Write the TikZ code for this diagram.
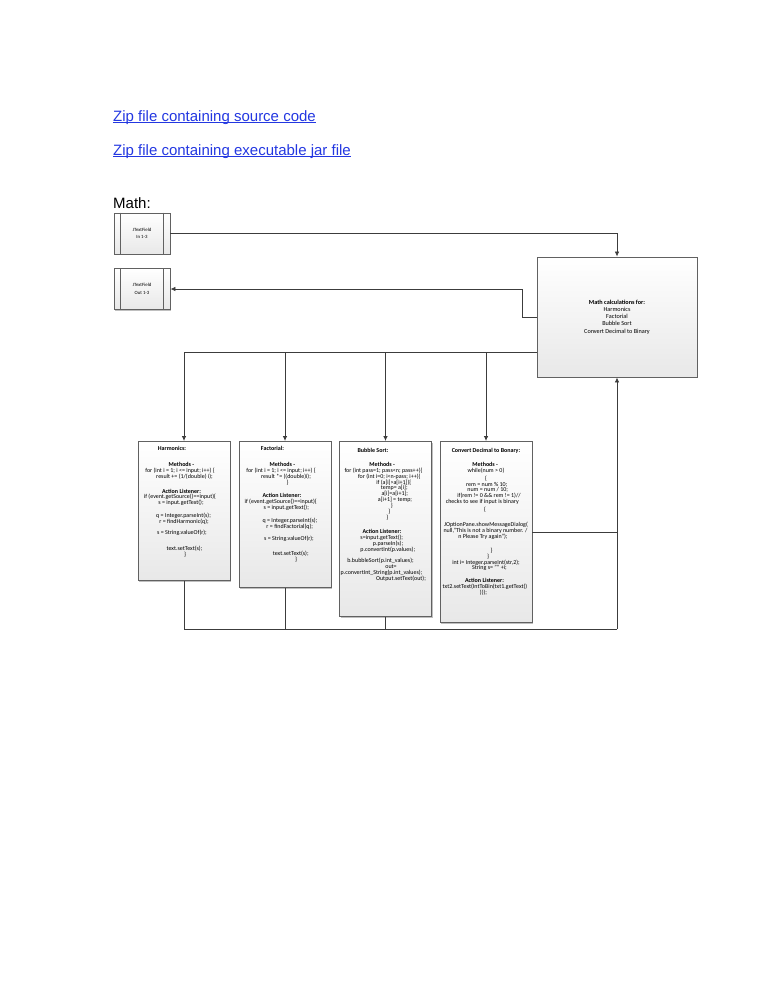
\documentclass[tikz,border=0pt]{standalone}
\usepackage{fontspec}
\setmainfont{Carlito}
\newfontfamily\arialfont{Liberation Sans}
\usetikzlibrary{arrows.meta, calc, shadows}

\definecolor{linkblue}{RGB}{35,55,225}
\definecolor{linegray}{RGB}{60,60,60}

% move one line of a centred block sideways
\newcommand{\shiftln}[2]{\hspace*{#1pt}#2\hspace*{-#1pt}}
\setlength{\lineskiplimit}{-5pt}

\begin{document}
\begin{tikzpicture}[x=1pt, y=1pt,
  box/.style={draw=black!62, line width=0.9pt, top color=white, bottom color=black!9,
    drop shadow={shadow xshift=1.2pt, shadow yshift=-1.2pt, opacity=0.25, fill=black}},
  field/.style={box, minimum width=56pt, minimum height=41pt, inner sep=0pt,
    align=center, font=\fontsize{4.8}{7.5}\selectfont},
  calcbox/.style={box, minimum width=160pt, minimum height=120pt, align=center,
    font=\fontsize{6.2}{7.2}\selectfont},
  methodbox/.style={box, minimum width=92pt, anchor=north, inner sep=0pt},
  methodtext/.style={anchor=north, align=center, inner sep=0pt,
    font=\fontsize{6}{5.9}\selectfont},
  flow/.style={draw=linegray, line width=0.75pt, -{Latex[length=5pt, width=4.5pt]}},
  wire/.style={draw=linegray, line width=0.75pt},
  link/.style={anchor=base west, inner sep=0pt, text=linkblue,
    font=\arialfont\fontsize{15}{18}\selectfont}
]

\useasboundingbox (0,0) rectangle (768,-994);

  % Links and heading
  \node[link] (srclink) at (113,-121) {\underline{\smash{Zip file containing source code}}};
  \node[link] (jarlink) at (113,-155) {\underline{\smash{Zip file containing executable jar file}}};
  \node[anchor=base west, inner sep=0pt, font=\arialfont\fontsize{15}{18}\selectfont]
    (mathhead) at (113,-208) {Math:};

  % Text fields
  \node[field] (in) at (142,-233.5) {JTextField\\In 1-3};
  \node[field] (out) at (142,-289) {JTextField\\Out 1-3};
  \foreach \f in {in,out} {
    \draw[draw=black!62, line width=0.9pt] ([xshift=7pt]\f.north west) -- ([xshift=7pt]\f.south west);
    \draw[draw=black!62, line width=0.9pt] ([xshift=-7pt]\f.north east) -- ([xshift=-7pt]\f.south east);
  }

  % Calculation box
  \node[calcbox] (math) at (617,-317) {\textbf{Math calculations for:}\\Harmonics\\Factorial\\Bubble Sort\\Convert Decimal to Binary};

  % Method boxes
  \node[methodbox, minimum height=139pt] (harm) at (184,-441) {};
  \node[methodbox, minimum height=146pt] (fact) at (285,-441) {};
  \node[methodbox, minimum height=175pt] (bubb) at (385.5,-441) {};
  \node[methodbox, minimum height=181pt] (conv) at (486,-441) {};

  \node[methodtext, yshift=-5pt] (harmtxt) at (harm.north) {%
    \shiftln{-12}{\textbf{Harmonics:}}\\[10pt]
    \shiftln{-5}{\textbf{Methods -}}\\
    \shiftln{-8}{for (int i = 1; i <= input; i++) \{}\\
    \shiftln{1}{result += (1/(double) i);}\\[9pt]
    \shiftln{-5}{\textbf{Action Listener:}}\\
    \shiftln{-8}{if (event.getSource()==input)\{}\\
    \shiftln{-6}{s = input.getText();}\\[7pt]
    \shiftln{-1}{q = Integer.parseInt(s);}\\
    r = findHarmonic(q);\\[5pt]
    \shiftln{-4}{s = String.valueOf(r);}\\[10pt]
    \shiftln{1}{text.setText(s);}\\
    \shiftln{1}{\}}};

  \node[methodtext, yshift=-5pt] (facttxt) at (fact.north) {%
    \shiftln{-12.5}{\textbf{Factorial:}}\\[10pt]
    \shiftln{-5}{\textbf{Methods -}}\\
    \shiftln{-8}{for (int i = 1; i <= input; i++) \{}\\
    \shiftln{2}{result *= ((double)i);}\\
    \shiftln{5}{\}}\\[8pt]
    \shiftln{-6}{\textbf{Action Listener:}}\\
    \shiftln{-8.5}{if (event.getSource()==input)\{}\\
    \shiftln{2.5}{s = input.getText();}\\[7pt]
    \shiftln{10}{q = Integer.parseInt(s);}\\
    \shiftln{9.5}{r = findFactorial(q);}\\[6pt]
    \shiftln{8}{s = String.valueOf(r);}\\[9pt]
    \shiftln{11.5}{text.setText(s);}\\
    \shiftln{11}{\}}};

  \node[methodtext, yshift=-7pt] (bubbtxt) at (bubb.north) {%
    \shiftln{-12.5}{\textbf{Bubble Sort:}}\\[8pt]
    \shiftln{-6.5}{\textbf{Methods -}}\\
    \shiftln{-4}{for (int pass=1; pass<n; pass++)\{}\\
    \shiftln{7.5}{for (int i=0; i<n-pass; i++)\{}\\
    \shiftln{16.5}{if (a[i]>a[i+1])\{}\\
    \shiftln{17.5}{temp= a[i];}\\
    \shiftln{18.5}{a[i]=a[i+1];}\\
    \shiftln{19}{a[i+1] = temp;}\\
    \shiftln{12.5}{\}}\\
    \shiftln{7.5}{\}}\\
    \shiftln{3.5}{\}}\\[8pt]
    \shiftln{-7}{\textbf{Action Listener:}}\\
    \shiftln{-7.5}{s=input.getText();}\\
    \shiftln{5}{p.parseIn(s);}\\
    \shiftln{4.5}{p.convertInt(p.values);}\\[6pt]
    \shiftln{-10}{b.bubbleSort(p.int\_values);}\\
    \shiftln{11}{out=}\\
    \shiftln{-8}{p.convertInt\_String(p.int\_values);}\\
    \shiftln{15.5}{Output.setText(out);}};

  \node[methodtext, yshift=-7pt] (convtxt) at (conv.north) {%
    \textbf{Convert Decimal to Bonary:}\\[8pt]
    \shiftln{-1.5}{\textbf{Methods -}}\\
    while(num > 0)\\[2pt]
    \{\\
    \shiftln{1.5}{rem = num \% 10;}\\
    \shiftln{3.5}{num = num / 10;}\\
    \shiftln{6}{if(rem != 0 \&\& rem != 1)//}\\
    \shiftln{-7.5}{checks to see if input is binary}\\[2pt]
    \shiftln{-2}{\{}\\[9pt]
    JOptionPane.showMessageDialog(\\
    \shiftln{-1}{null,"This is not a binary number. /}\\
    \shiftln{-6}{n Please Try again");}\\[8pt]
    \shiftln{11}{\}}\\
    \shiftln{4}{\}}\\
    int i= Integer.parseInt(str,2);\\
    \shiftln{7}{String s= "" +i;}\\[7pt]
    \shiftln{-3}{\textbf{Action Listener:}}\\
    \shiftln{-2}{txt2.setText(IntToBin(txt1.getText()}\\
    \shiftln{-2.5}{)));}};

  % Connectors
  \coordinate (split) at (537,-352);
  \coordinate (join) at (617,-629);

  \draw[flow] (in.east) -| (math.north);
  \draw[flow] (math.west) -- ++(-14,0) |- (out.east);

  \draw[wire] (split) -- (split -| harm.north);
  \foreach \b in {harm,fact,bubb,conv}
    \draw[flow] (split -| \b.north) -- (\b.north);

  \draw[wire] (harm.south) |- (join);
  \foreach \b in {fact,bubb}
    \draw[wire] (\b.south) -- (\b.south |- join);
  \draw[wire] (conv.east) -- (conv.east -| join);
  \draw[flow] (join) -- (math.south);

\end{tikzpicture}
\end{document}
